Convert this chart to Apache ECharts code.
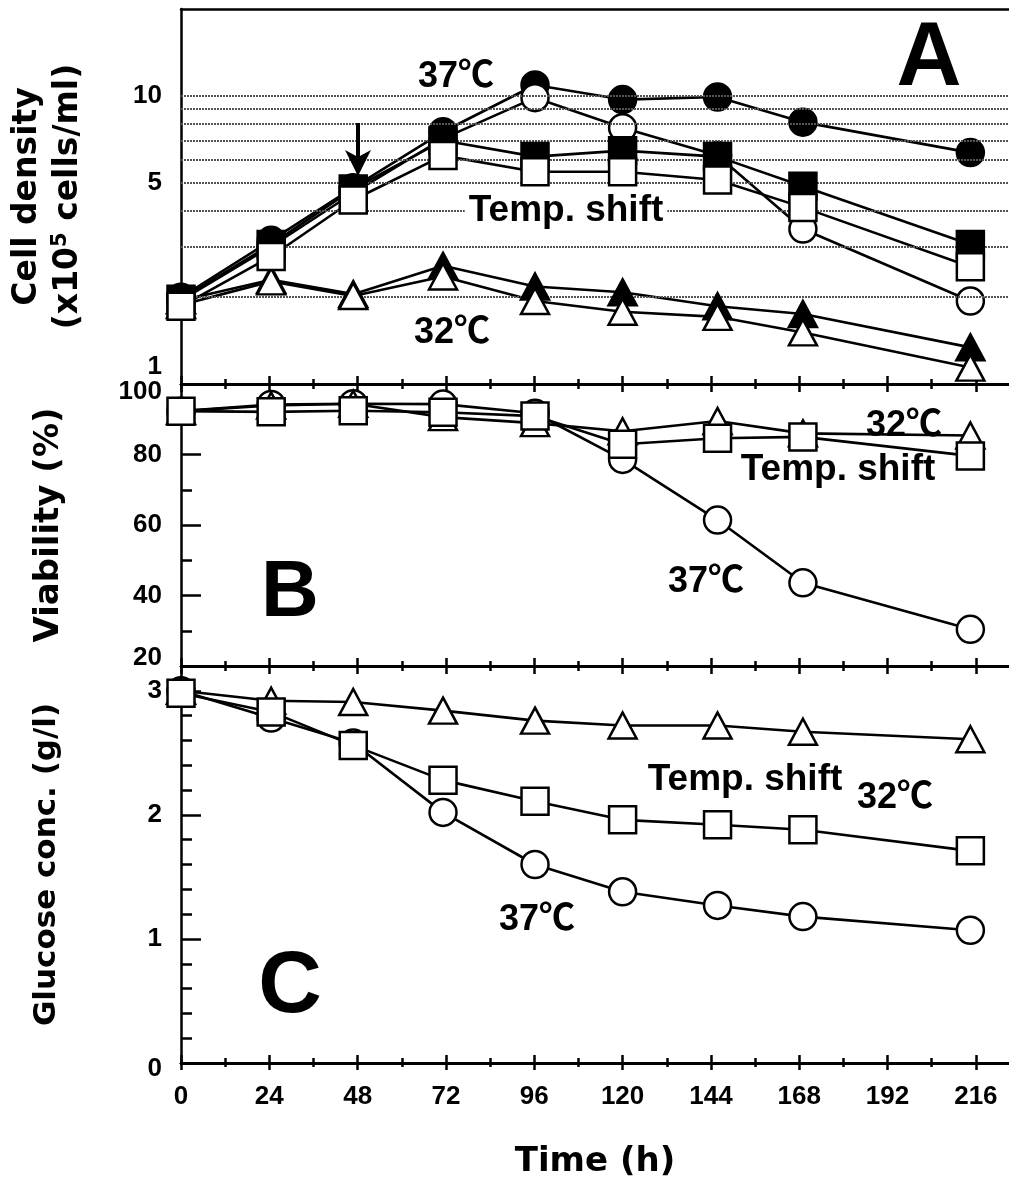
<!DOCTYPE html>
<html>
<head>
<meta charset="utf-8">
<script src="https://cdn.jsdelivr.net/npm/echarts@6.0.0/dist/echarts.min.js"></script>
<style>
  html, body { margin: 0; background: #fff; }
  #chart { width: 1009px; height: 1191px; }
</style>
</head>
<body>
<div id="chart"></div>
<script>
// sampling times (h)
const hours = [0, 24.5, 46.8, 71.2, 96.2, 120, 145.8, 169, 214.5];
const timeTicks = [0, 24, 48, 72, 96, 120, 144, 168, 192, 216];
const timeMinorTicks = [12, 36, 60, 84, 108, 132, 156, 180, 204];

// A: cell density (x10^5 cells/ml)
const density37Total     = [2.0, 3.15, 4.8, 7.5, 10.9, 9.7, 9.9, 8.1, 6.35];
const density37Viable    = [1.95, 3.0, 4.6, 7.1, 9.85, 7.75, 6.2, 3.45, 1.94];
const densityShiftTotal  = [1.97, 3.05, 4.75, 7.0, 6.15, 6.45, 6.15, 4.85, 3.05];
const densityShiftViable = [1.86, 2.77, 4.35, 6.2, 5.45, 5.45, 5.1, 4.1, 2.55];
const density32Total     = [1.95, 2.3, 2.05, 2.57, 2.18, 2.08, 1.86, 1.75, 1.34];
const density32Viable    = [1.88, 2.27, 2.02, 2.36, 1.94, 1.78, 1.71, 1.51, 1.14];
const densityTicks = [1, 5, 10];
const densityGridLines = [2, 3, 4, 5, 6, 7, 8, 9, 10];

// B: viability (%)
const viability37    = [92.3, 94.2, 94.4, 94.3, 91.7, 78.6, 61.4, 43.6, 30.4];
const viabilityShift = [92.3, 92.1, 92.4, 92.0, 90.9, 82.9, 84.6, 85.0, 79.6];
const viability32    = [92.3, 93.9, 94.4, 90.6, 88.9, 86.6, 89.5, 86.0, 85.4];

// C: glucose conc. (g/l)
const glucose37    = [3.0, 2.78, 2.58, 2.02, 1.60, 1.38, 1.27, 1.18, 1.07];
const glucoseShift = [2.98, 2.83, 2.56, 2.28, 2.11, 1.96, 1.92, 1.88, 1.71];
const glucose32    = [3.0, 2.92, 2.91, 2.84, 2.76, 2.72, 2.72, 2.67, 2.61];
const glucoseTicks = [0, 1, 2, 3];
const glucoseMinorTicks = [0.2, 0.4, 0.6, 0.8, 1.2, 1.4, 1.6, 1.8, 2.2, 2.4, 2.6, 2.8];

const labelFont = '"Liberation Sans", Arial, sans-serif';
const titleFont = '"DejaVu Sans", sans-serif';
const noteFont = '"Liberation Sans", "Noto Sans CJK JP", sans-serif';
const black = '#000';
const axisLine = {show: true, onZero: false, lineStyle: {color: black, width: 2.5}};
const tickLabel = {color: black, fontFamily: labelFont, fontWeight: 'bold', fontSize: 26, margin: 19};
const tickStyle = {color: black, width: 2.5};

const chart = echarts.init(document.getElementById('chart'));

const xAxes = [];
function addX(gridIndex, position, values, length, inside, extra) {
  xAxes.push(Object.assign({
    type: 'value', gridIndex, position, min: 0, max: 225,
    axisLine,
    axisTick: values
      ? {show: true, inside, length, customValues: values, lineStyle: tickStyle}
      : {show: false},
    axisLabel: {show: false},
    splitLine: {show: false}
  }, extra || {}));
  return xAxes.length - 1;
}

// A
const xA = addX(0, 'bottom', timeTicks, 8, true);
addX(0, 'bottom', timeMinorTicks, 5, true);
addX(0, 'top', null);
// B
const xB = addX(1, 'top', timeTicks, 8, true);
addX(1, 'top', timeMinorTicks, 5, true);
addX(1, 'bottom', timeTicks, 8, true);
addX(1, 'bottom', timeMinorTicks, 5, true);
// C
const xC = addX(2, 'top', timeTicks, 8, true);
addX(2, 'top', timeMinorTicks, 5, true);
addX(2, 'bottom', timeTicks, 8, true);
addX(2, 'bottom', timeMinorTicks, 5, true);
addX(2, 'bottom', timeTicks, 7, false, {
  axisLabel: Object.assign({show: true, customValues: timeTicks}, tickLabel, {margin: 21}),
  name: 'Time (h)', nameLocation: 'middle', nameGap: 82,
  nameTextStyle: {color: black, fontFamily: titleFont, fontWeight: 'bold', fontSize: 34}
});
addX(2, 'bottom', timeMinorTicks, 4, false);

const titleStyle = {color: black, fontFamily: titleFont, fontWeight: 'bold', fontSize: 33};

const yAxes = [
  {
    type: 'log', logBase: 10, gridIndex: 0, min: 1, max: 20,
    axisLine, axisTick: {show: false}, splitLine: {show: false},
    axisLabel: Object.assign({customValues: densityTicks, lineHeight: 34,
      formatter: v => Math.round(v) === 1 ? '1\n' : String(Math.round(v))}, tickLabel),
    name: '{t|Cell density}\n{t|(x10}{s|5}{t| cells/ml)}',
    nameLocation: 'middle', nameRotate: 90, nameGap: 92,
    nameTextStyle: {rich: {
      t: Object.assign({lineHeight: 41}, titleStyle),
      s: Object.assign({}, titleStyle, {fontSize: 21, padding: [0, 0, 16, 0]})
    }}
  },
  {
    type: 'value', gridIndex: 1, min: 20, max: 100, interval: 20,
    axisLine, splitLine: {show: false},
    axisTick: {inside: true, length: 20, lineStyle: tickStyle},
    minorTick: {show: true, splitNumber: 2, length: 11, lineStyle: tickStyle},
    axisLabel: Object.assign({lineHeight: 16,
      formatter: v => v === 100 ? '\n100' : (v === 20 ? '20\n' : String(v))}, tickLabel),
    name: 'Viability (%)', nameLocation: 'middle', nameRotate: 90, nameGap: 115,
    nameTextStyle: Object.assign({}, titleStyle, {fontSize: 34})
  },
  {
    type: 'value', gridIndex: 2, position: 'left', min: 0, max: 3.2,
    axisLine, splitLine: {show: false},
    axisTick: {inside: true, length: 20, customValues: glucoseTicks, lineStyle: tickStyle},
    axisLabel: Object.assign({customValues: glucoseTicks, lineHeight: 12,
      formatter: v => v === 0 ? '\n0' : String(v)}, tickLabel),
    name: 'Glucose conc. (g/l)', nameLocation: 'middle', nameRotate: 90, nameGap: 119,
    nameTextStyle: Object.assign({}, titleStyle, {fontSize: 31})
  },
  {
    type: 'value', gridIndex: 2, position: 'left', min: 0, max: 3.2,
    axisLine: {show: false, onZero: false}, splitLine: {show: false}, axisLabel: {show: false},
    axisTick: {inside: true, length: 11, customValues: glucoseMinorTicks, lineStyle: tickStyle}
  }
];

const series = [];
function plot(values, xIndex, yIndex, symbol, filled, z) {
  const pts = hours.map((h, i) => [h, values[i]]);
  series.push({
    type: 'line', xAxisIndex: xIndex, yAxisIndex: yIndex, data: pts,
    symbol: 'none', lineStyle: {color: black, width: 2.6}, z: 2, silent: true
  });
  series.push({
    type: 'scatter', xAxisIndex: xIndex, yAxisIndex: yIndex, data: pts,
    symbol, symbolSize: symbol === 'triangle' ? [28, 26] : 27,
    itemStyle: {color: filled ? black : '#fff', borderColor: black, borderWidth: 2.5, opacity: 1},
    z
  });
}

// horizontal guide lines of panel A
series.push({
  type: 'line', xAxisIndex: xA, yAxisIndex: 0, data: [], z: 1,
  markLine: {
    silent: true, symbol: 'none', label: {show: false}, animation: false,
    lineStyle: {color: '#555', width: 2.2, type: [2, 1]},
    data: densityGridLines.map(v => ({yAxis: v}))
  }
});

plot(density37Total, xA, 0, 'circle', true, 3);
plot(density37Viable, xA, 0, 'circle', false, 4);
plot(density32Total, xA, 0, 'triangle', true, 5);
plot(density32Viable, xA, 0, 'triangle', false, 6);
plot(densityShiftTotal, xA, 0, 'rect', true, 7);
plot(densityShiftViable, xA, 0, 'rect', false, 8);

plot(viability37, xB, 1, 'circle', false, 3);
plot(viability32, xB, 1, 'triangle', false, 4);
plot(viabilityShift, xB, 1, 'rect', false, 5);

plot(glucose37, xC, 2, 'circle', false, 3);
plot(glucose32, xC, 2, 'triangle', false, 4);
plot(glucoseShift, xC, 2, 'rect', false, 5);

function note(text, x, y, size, bg) {
  return {
    type: 'text', x, y, z: 100,
    style: {text, fontFamily: noteFont, fontWeight: 'bold', fontSize: size, fill: black,
      align: 'center', verticalAlign: 'middle', backgroundColor: bg || 'transparent', padding: bg ? [0, 4] : 0}
  };
}

const graphic = [
  note('37℃', 456, 77, 36),
  note('Temp. shift', 566, 211, 37, '#fff'),
  note('32℃', 452, 333, 36),
  note('A', 929, 60, 90),
  note('32℃', 904, 426, 36),
  note('Temp. shift', 838, 470, 37),
  note('37℃', 706, 582, 36),
  note('B', 290, 594, 80),
  note('32℃', 895, 798, 36),
  note('Temp. shift', 745, 780, 37),
  note('37℃', 537, 920, 36),
  note('C', 290, 988, 88),
  // arrow marking the temperature shift
  {type: 'line', z: 100, shape: {x1: 358, y1: 123, x2: 358, y2: 160}, style: {stroke: black, lineWidth: 4}},
  {type: 'polygon', z: 100, shape: {points: [[345, 150], [358, 176], [371, 150], [358, 157]]}, style: {fill: black}}
];

chart.setOption({
  animation: false,
  grid: [
    {left: 181, right: 0, top: 9, height: 375},
    {left: 181, right: 0, top: 384, height: 282},
    {left: 181, right: 0, top: 666, height: 397}
  ],
  xAxis: xAxes,
  yAxis: yAxes,
  series,
  graphic
});
</script>
</body>
</html>
